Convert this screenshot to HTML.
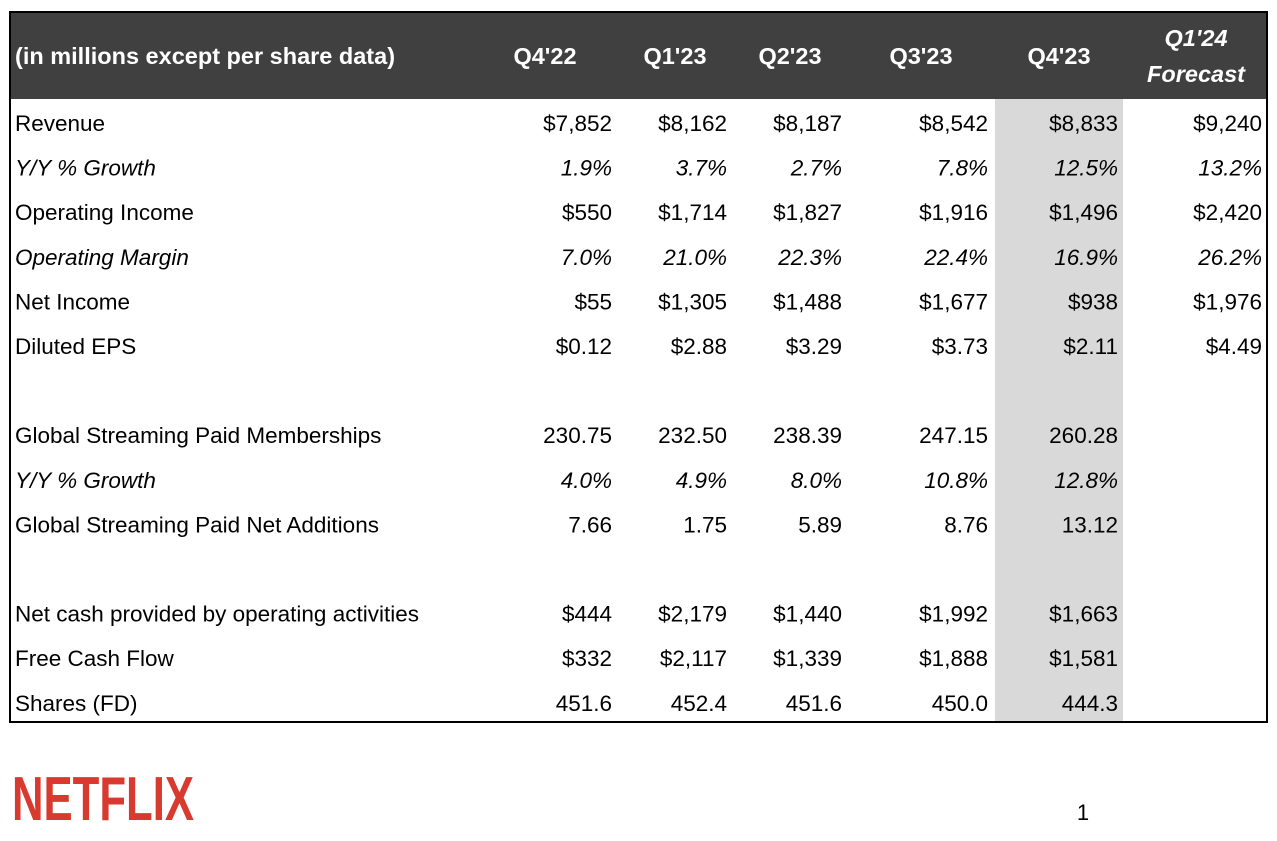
<!DOCTYPE html>
<html><head><meta charset="utf-8">
<style>
html,body{margin:0;padding:0;background:#fff;}
body{width:1277px;height:841px;position:relative;overflow:hidden;font-family:"Liberation Sans",sans-serif;}
svg{position:absolute;left:0;top:0;}
</style></head>
<body>
<svg id="s" width="1277" height="841"></svg>
<script>
const columns = ["Q4'22","Q1'23","Q2'23","Q3'23","Q4'23"];
const rowLabels = ["Revenue","Y/Y % Growth","Operating Income","Operating Margin","Net Income","Diluted EPS","","Global Streaming Paid Memberships","Y/Y % Growth","Global Streaming Paid Net Additions","","Net cash provided by operating activities","Free Cash Flow","Shares (FD)"];
const rowItalic = [0,1,0,1,0,0,0,0,1,0,0,0,0,0];
const cellValues = [
 ["$7,852","$8,162","$8,187","$8,542","$8,833","$9,240"],
 ["1.9%","3.7%","2.7%","7.8%","12.5%","13.2%"],
 ["$550","$1,714","$1,827","$1,916","$1,496","$2,420"],
 ["7.0%","21.0%","22.3%","22.4%","16.9%","26.2%"],
 ["$55","$1,305","$1,488","$1,677","$938","$1,976"],
 ["$0.12","$2.88","$3.29","$3.73","$2.11","$4.49"],
 ["","","","","",""],
 ["230.75","232.50","238.39","247.15","260.28",""],
 ["4.0%","4.9%","8.0%","10.8%","12.8%",""],
 ["7.66","1.75","5.89","8.76","13.12",""],
 ["","","","","",""],
 ["$444","$2,179","$1,440","$1,992","$1,663",""],
 ["$332","$2,117","$1,339","$1,888","$1,581",""],
 ["451.6","452.4","451.6","450.0","444.3",""]
];
const NS="http://www.w3.org/2000/svg";
const s=document.getElementById('s');
function mk(tag,attrs,txt){const e=document.createElementNS(NS,tag);for(const k in attrs)e.setAttribute(k,attrs[k]);if(txt!==undefined)e.textContent=txt;s.appendChild(e);return e;}
const colRight=[612,727,842,988,1118,1262];
const colCenter=[545,675,790,921,1059,1196];
const rowY=i=>123+i*44.6;
let h=mk('rect',{x:995,y:99,width:128,height:623,fill:'#d9d9d9'});


let hd=mk('rect',{x:10,y:12,width:1257,height:87,fill:'#404040'});


let t=mk('text',{x:15,y:64,fill:'#fff','font-size':23.5,'font-weight':'bold'},"(in millions except per share data)");


columns.forEach((c,i)=>{
 const e=mk('text',{x:colCenter[i],y:64,fill:'#fff','font-size':23.5,'font-weight':'bold','text-anchor':'middle'},c);
 
 
});
let f1=mk('text',{x:1196,y:46,fill:'#fff','font-size':23.5,'font-weight':'bold','font-style':'italic','text-anchor':'middle'},"Q1'24");


let f2=mk('text',{x:1196,y:82,fill:'#fff','font-size':23.5,'font-weight':'bold','font-style':'italic','text-anchor':'middle'},"Forecast");


rowLabels.forEach((lab,r)=>{
 const y=rowY(r)+8;
 const st=rowItalic[r]?'italic':'normal';
 if(lab){
  const e=mk('text',{x:15,y:y,fill:'#000','font-size':22.5,'font-style':st},lab);
  
  
 }
 cellValues[r].forEach((v,c)=>{
  if(!v)return;
  const e=mk('text',{x:colRight[c],y:y,fill:'#000','font-size':22.5,'font-style':st,'text-anchor':'end'},v);
  
  
 });
});
let b=mk('rect',{x:10,y:12,width:1257,height:710,fill:'none',stroke:'#000','stroke-width':2});


let lg=mk('text',{x:12,y:820,fill:'#d93a2f','font-size':62,'font-weight':'bold',textLength:182,lengthAdjust:'spacingAndGlyphs'},"NETFLIX");


let pn=mk('text',{x:1083,y:820,fill:'#000','font-size':22,'text-anchor':'middle'},"1");


</script>
</body></html>
